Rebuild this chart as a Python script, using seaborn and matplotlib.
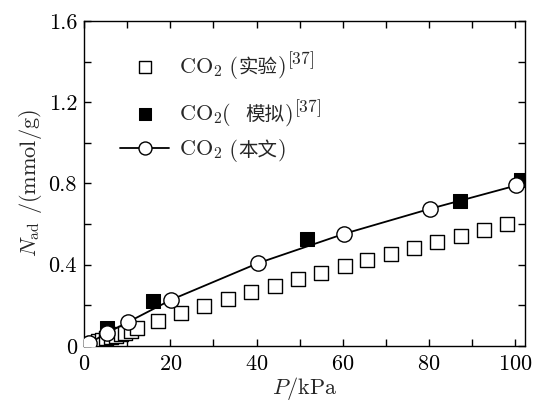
import matplotlib
matplotlib.use("Agg")
import matplotlib.pyplot as plt
import seaborn as sns
import pandas as pd
from matplotlib.ticker import MultipleLocator
from matplotlib.offsetbox import TextArea, HPacker, DrawingArea

# experimental data (open squares)
exp_p = [1.2, 2.2, 3.2, 4.2, 5.2, 6.3, 7.4, 8.5, 9.6, 10.8, 12.2, 17.1, 22.6, 27.9,
         33.3, 38.8, 44.2, 49.5, 55.0, 60.4, 65.7, 71.2, 76.6, 81.9, 87.3, 92.8, 98.1]
exp_n = [0.008, 0.016, 0.023, 0.030, 0.037, 0.044, 0.051, 0.058, 0.065, 0.074, 0.087,
         0.123, 0.160, 0.195, 0.231, 0.263, 0.296, 0.329, 0.360, 0.392, 0.423,
         0.453, 0.483, 0.512, 0.543, 0.573, 0.598]

# simulation data from ref. [37] (filled squares)
sim_p = [5.4, 16.0, 51.8, 87.2, 101.4]
sim_n = [0.087, 0.222, 0.528, 0.716, 0.815]

# this work (line + open circles)
work_p = [1.2, 5.3, 10.2, 20.2, 40.3, 60.3, 80.2, 100.2]
work_n = [0.013, 0.063, 0.117, 0.227, 0.407, 0.552, 0.675, 0.790]

# legend: label in mathtext, then "(", chinese words, ")" and the reference mark
labels = ["CO$_2$", "CO$_2$", "CO$_2$"]
openers = [" (", "(  ", " ("]
cn_words = ["实验", "模拟", "本文"]
refs = ["$^{[37]}$", "$^{[37]}$", ""]

df_exp = pd.DataFrame({"P": exp_p, "N": exp_n})
df_sim = pd.DataFrame({"P": sim_p, "N": sim_n})
df_work = pd.DataFrame({"P": work_p, "N": work_n})

sns.set_theme(style="ticks")
plt.rcParams["font.family"] = ["cmr10", "Noto Sans CJK SC", "DejaVu Serif"]
plt.rcParams["mathtext.fontset"] = "cm"
plt.rcParams["axes.formatter.use_mathtext"] = True
plt.rcParams["axes.unicode_minus"] = False

FS = 16

fig = plt.figure(figsize=(5.35, 4.05), dpi=100)
ax = fig.add_axes([0.157, 0.146, 0.824, 0.802])

sns.lineplot(data=df_work, x="P", y="N", ax=ax, color="black", linewidth=1.3,
             marker="o", markersize=11, markerfacecolor="white",
             markeredgecolor="black", markeredgewidth=1.0, zorder=3,
             label="work")
sns.scatterplot(data=df_exp, x="P", y="N", ax=ax, marker="s", s=95,
                facecolor="white", edgecolor="black", linewidth=1.0, zorder=2,
                label="exp")
sns.scatterplot(data=df_sim, x="P", y="N", ax=ax, marker="s", s=90,
                color="black", edgecolor="black", zorder=2,
                label="sim")

ax.set_xlim(0, 102.2)
ax.set_ylim(0, 1.6)
ax.xaxis.set_major_locator(MultipleLocator(20))
ax.xaxis.set_minor_locator(MultipleLocator(10))
ax.yaxis.set_major_locator(MultipleLocator(0.4))
ax.yaxis.set_minor_locator(MultipleLocator(0.2))
ax.yaxis.set_major_formatter(plt.FuncFormatter(lambda v, _: "0" if v == 0 else f"{v:.1f}"))
ax.tick_params(which="both", direction="in", top=True, right=True,
               labelsize=FS, colors="black", width=1.0, length=5)
ax.tick_params(axis="x", pad=6)
ax.tick_params(axis="y", pad=5)
for sp in ax.spines.values():
    sp.set_linewidth(1.0)
    sp.set_color("black")

ax.set_xlabel("$P$/kPa", fontsize=FS, labelpad=1)
ax.set_ylabel(r"$N_{\rm ad}$ /(mmol/g)", fontsize=FS, labelpad=3)

handles, _ = ax.get_legend_handles_labels()
order = [1, 2, 0]
leg = ax.legend([handles[i] for i in order], labels,
                loc="upper left", bbox_to_anchor=(0.062, 0.921), frameon=False,
                fontsize=FS, markerscale=0.85, handlelength=2.2, labelspacing=0.55,
                handletextpad=0.45, borderaxespad=0)

# append the chinese text and reference mark to each legend row
column = leg._legend_handle_box.get_children()[0]
rows = column.get_children()
for row, op, cn, r in zip(list(rows), openers, cn_words, refs):
    kids = row.get_children()
    parts = [kids[1],
             TextArea(op, textprops=dict(fontsize=FS)),
             TextArea(cn, textprops=dict(fontsize=14)),
             TextArea(")", textprops=dict(fontsize=FS))]
    if r:
        parts.append(TextArea(r, textprops=dict(fontsize=18)))
    packer = HPacker(pad=0, sep=0, align="baseline", children=parts)
    packer.set_figure(fig)
    for p in parts:
        p.set_figure(fig)
    kids[1] = packer

# a little extra room between the first two rows
spacer = DrawingArea(1, 0)
spacer.set_figure(fig)
rows.insert(1, spacer)

fig.savefig("out.png", dpi=100)
